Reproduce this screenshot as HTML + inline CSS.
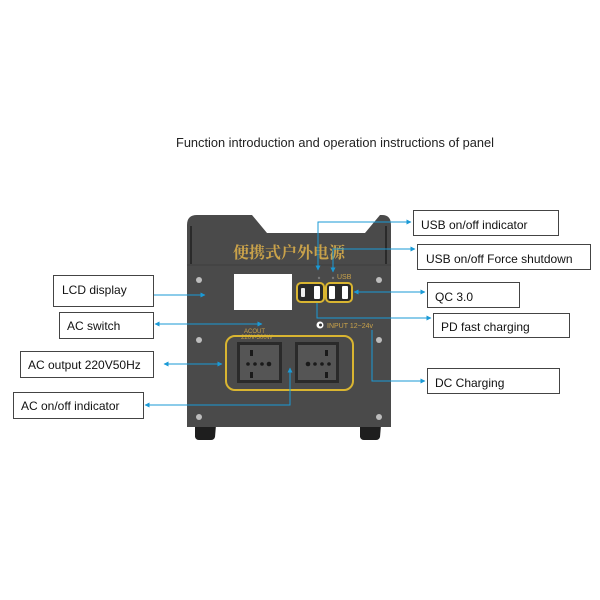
<!DOCTYPE html>
<html><head><meta charset="utf-8"><style>
html,body{margin:0;padding:0;background:#fff;}
svg{display:block;}
text{font-family:"Liberation Sans","Noto Sans CJK SC",sans-serif;}
</style></head><body>
<svg width="600" height="600" viewBox="0 0 600 600" xmlns="http://www.w3.org/2000/svg">
<defs>
<marker id="a" viewBox="0 0 10 10" refX="9" refY="5" markerWidth="5" markerHeight="5" orient="auto-start-reverse">
<path d="M0,0 L10,5 L0,10 z" fill="#1a9ad6"/></marker>
</defs>
<rect width="600" height="600" fill="#fff"/>
<text x="176" y="147" font-size="12.5" fill="#222" textLength="318" lengthAdjust="spacingAndGlyphs">Function introduction and operation instructions of panel</text>

<path d="M195,425 h21 l-1,12 q-1,3 -4,3 h-12 q-3,0 -4,-3 z" fill="#1e1e1e"/>
<path d="M360,425 h21 l-1,12 q-1,3 -4,3 h-12 q-3,0 -4,-3 z" fill="#1e1e1e"/>
<path d="M187,427 V225 q0,-10 10,-10 H252 L267,233 H365 L380,215 H382 q9,0 9,10 V427 z" fill="#4a4a4a"/>
<path d="M187,265 H391" stroke="#3e3e3e" stroke-width="1"/>
<line x1="386" y1="226" x2="386" y2="264" stroke="#2a2a2a" stroke-width="2"/>
<line x1="191" y1="226" x2="191" y2="264" stroke="#2a2a2a" stroke-width="2"/>
<g fill="#bdbdbd"><circle cx="199" cy="280" r="3"/><circle cx="199" cy="340" r="3"/><circle cx="199" cy="417" r="3"/>
<circle cx="379" cy="280" r="3"/><circle cx="379" cy="340" r="3"/><circle cx="379" cy="417" r="3"/></g>
<text x="233" y="258" font-size="16" style="font-family:'Noto Serif CJK SC','Noto Sans CJK SC',serif;font-weight:bold" fill="#c9a24a" textLength="112" lengthAdjust="spacingAndGlyphs">便携式户外电源</text>
<rect x="234" y="274" width="58" height="36" fill="#fff"/>
<text x="337" y="279" font-size="7" fill="#c9a24a">USB</text>
<rect x="297" y="283" width="27" height="19" rx="4" fill="#2a2a2a" stroke="#d9b531" stroke-width="2"/>
<rect x="326" y="283" width="26" height="19" rx="4" fill="#2a2a2a" stroke="#d9b531" stroke-width="2"/>
<rect x="301" y="288" width="4" height="9" rx="1" fill="#eee"/>
<rect x="314" y="286" width="6" height="13" rx="1" fill="#fff"/>
<rect x="329" y="286" width="6" height="13" rx="1" fill="#fff"/>
<rect x="342" y="286" width="6" height="13" rx="1" fill="#fff"/>
<circle cx="319" cy="278" r="1.2" fill="#777"/><circle cx="333" cy="278" r="1.2" fill="#777"/>
<circle cx="320" cy="325" r="3.5" fill="#fff"/><circle cx="320.5" cy="325" r="1.5" fill="#333"/>
<text x="327" y="328" font-size="7" fill="#c9a24a">INPUT  12~24v</text>
<text x="244" y="333" font-size="6" fill="#c9a24a">ACOUT</text>
<text x="241" y="339" font-size="6" fill="#c9a24a">220V-500W</text>
<rect x="226" y="336" width="127" height="54" rx="9" fill="none" stroke="#d9b531" stroke-width="2"/>
<rect x="237" y="342" width="45" height="41" fill="#2a2a2a"/>
<rect x="240" y="345" width="39" height="35" fill="#555"/>
<rect x="295" y="342" width="44" height="41" fill="#2a2a2a"/>
<rect x="298" y="345" width="38" height="35" fill="#555"/>
<g fill="#1a1a1a"><circle cx="248" cy="364" r="1.8"/><circle cx="255" cy="364" r="1.8"/><circle cx="262" cy="364" r="1.8"/><circle cx="269" cy="364" r="2.3"/>
<circle cx="308" cy="364" r="2.3"/><circle cx="315" cy="364" r="1.8"/><circle cx="322" cy="364" r="1.8"/><circle cx="329" cy="364" r="1.8"/>
<rect x="250" y="350" width="3" height="6"/><rect x="250" y="372" width="3" height="6"/><rect x="325" y="350" width="3" height="6"/><rect x="325" y="372" width="3" height="6"/></g>

<g stroke="#1a9ad6" stroke-width="1" fill="none">
<path d="M153,295 H205" marker-end="url(#a)"/>
<path d="M155,324 H262" marker-start="url(#a)" marker-end="url(#a)"/>
<path d="M164,364 H222" marker-start="url(#a)" marker-end="url(#a)"/>
<path d="M145,405 H290 V368" marker-start="url(#a)" marker-end="url(#a)"/>
<path d="M318,270 V222 H411" marker-start="url(#a)" marker-end="url(#a)"/>
<path d="M333,272 V249 H415" marker-start="url(#a)" marker-end="url(#a)"/>
<path d="M354,292 H425" marker-start="url(#a)" marker-end="url(#a)"/>
<path d="M317,303 V318 H431" marker-end="url(#a)"/>
<path d="M372,330 V381 H425" marker-end="url(#a)"/>
</g>

<g fill="#fff" stroke="#444" stroke-width="1">
<rect x="53.5" y="275.5" width="100" height="31"/>
<rect x="59.5" y="312.5" width="94" height="26"/>
<rect x="20.5" y="351.5" width="133" height="26"/>
<rect x="13.5" y="392.5" width="130" height="26"/>
<rect x="413.5" y="210.5" width="145" height="25"/>
<rect x="417.5" y="244.5" width="173" height="25"/>
<rect x="427.5" y="282.5" width="92" height="25"/>
<rect x="433.5" y="313.5" width="136" height="24"/>
<rect x="427.5" y="368.5" width="132" height="25"/>
</g>
<g font-size="12" fill="#111">
<text x="62" y="294">LCD display</text>
<text x="67" y="330">AC switch</text>
<text x="28" y="369">AC output 220V50Hz</text>
<text x="21" y="410">AC on/off indicator</text>
<text x="421" y="229">USB on/off indicator</text>
<text x="426" y="263">USB on/off Force shutdown</text>
<text x="435" y="301">QC 3.0</text>
<text x="441" y="331">PD fast charging</text>
<text x="435" y="387">DC Charging</text>
</g>
</svg>
</body></html>
